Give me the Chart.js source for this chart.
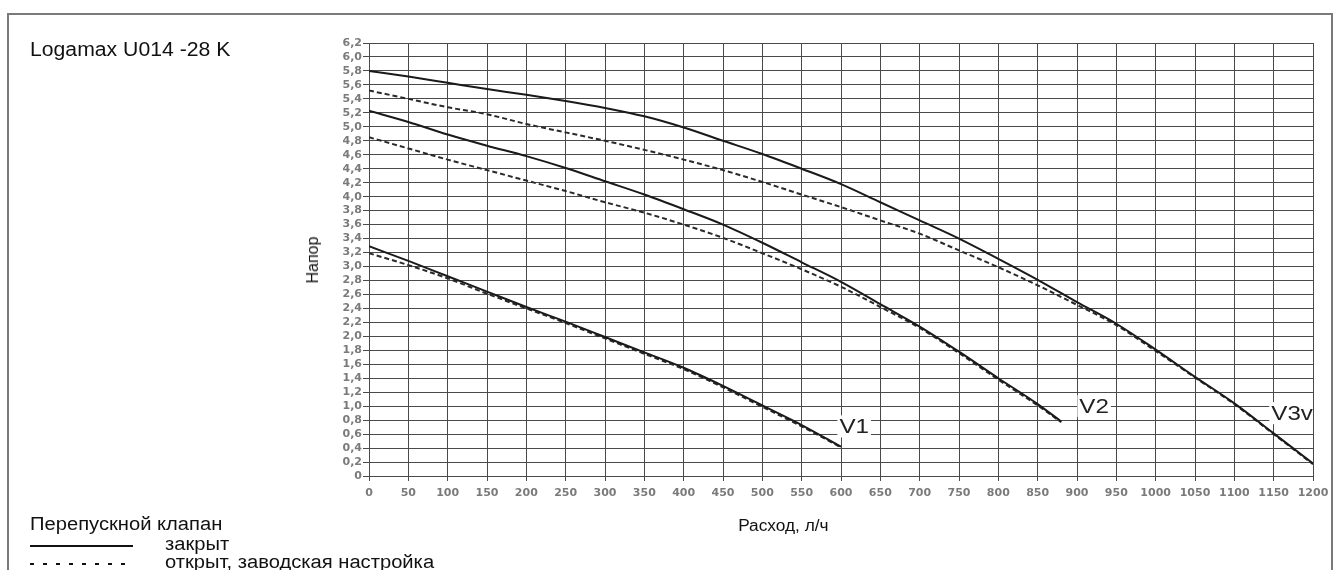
<!DOCTYPE html>
<html>
<head>
<meta charset="utf-8">
<script src="https://cdn.jsdelivr.net/npm/chart.js@4/dist/chart.umd.min.js"></script>
<style>
  html, body { margin: 0; padding: 0; background: #fff; overflow: hidden; }
  #wrap { position: relative; width: 1337px; height: 570px; font-family: Arial, "Liberation Sans", sans-serif; color: #111; }
  #frame { position: absolute; left: 7px; top: 13px; width: 1322px; height: 600px; border: 2px solid #7a7a7a; }
  #chart { position: absolute; left: 0; top: 0; }
  .txt { position: absolute; white-space: nowrap; line-height: 1; transform-origin: 0 0; }
  #title { left: 30px; top: 39px; font-size: 20px; transform: scaleX(1.06); }
  #ytitle { left: 313px; top: 260px; font-size: 16px; transform-origin: 50% 50%; transform: translate(-50%, -50%) rotate(-90deg); }
  #xtitle { left: 780px; top: 518px; font-size: 16px; transform: translateX(-50%) scaleX(1.08); transform-origin: 0 0; }
  #lg0 { left: 30px; top: 515px; font-size: 18px; transform: scaleX(1.12); }
  #lg1 { left: 165px; top: 535px; font-size: 18px; transform: scaleX(1.12); }
  #lg2 { left: 165px; top: 553px; font-size: 18px; transform: scaleX(1.12); }
  #ln1 { position: absolute; left: 30px; top: 545px; width: 103px; height: 2px; background: #111; }
  #ln2 { position: absolute; left: 30px; top: 563px; width: 103px; height: 2px;
         background: repeating-linear-gradient(to right, #111 0 4px, transparent 4px 13px); }
</style>
</head>
<body>
<div id="wrap">
  <div id="frame"></div>
  <canvas id="chart" width="1337" height="570"></canvas>
  <div class="txt" id="title">Logamax U014 -28 K</div>
  <div class="txt" id="ytitle">Напор</div>
  <div class="txt" id="xtitle">Расход, л/ч</div>
  <div class="txt" id="lg0">Перепускной клапан</div>
  <div id="ln1"></div>
  <div class="txt" id="lg1">закрыт</div>
  <div id="ln2"></div>
  <div class="txt" id="lg2">открыт, заводская настройка</div>
</div>
<script>
// flow (l/h) and head values
const v1Flow = [0, 50, 100, 150, 200, 250, 300, 350, 400, 450, 500, 550, 600];
const v1Closed = [3.29, 3.08, 2.86, 2.64, 2.42, 2.21, 1.99, 1.77, 1.55, 1.29, 1.01, 0.73, 0.42];
const v1Open = [3.19, 3.02, 2.83, 2.61, 2.40, 2.19, 1.97, 1.75, 1.53, 1.27, 0.99, 0.71, 0.41];

const v2Flow = [0, 50, 100, 150, 200, 250, 300, 350, 400, 450, 500, 550, 600, 650, 700, 750, 800, 850, 880];
const v2Closed = [5.23, 5.07, 4.89, 4.73, 4.58, 4.41, 4.22, 4.03, 3.82, 3.60, 3.34, 3.06, 2.78, 2.46, 2.14, 1.78, 1.40, 1.03, 0.78];
const v2Open = [4.85, 4.69, 4.53, 4.38, 4.23, 4.08, 3.92, 3.77, 3.60, 3.41, 3.19, 2.96, 2.71, 2.42, 2.12, 1.76, 1.38, 1.01, 0.77];

const v3Flow = [0, 50, 100, 150, 200, 250, 300, 350, 400, 450, 500, 550, 600, 650, 700, 750, 800, 850, 900, 950, 1000, 1050, 1100, 1150, 1200];
const v3Closed = [5.80, 5.72, 5.63, 5.54, 5.46, 5.37, 5.27, 5.15, 4.99, 4.80, 4.61, 4.40, 4.18, 3.92, 3.66, 3.40, 3.11, 2.81, 2.49, 2.18, 1.81, 1.42, 1.04, 0.61, 0.18];
const v3Open = [5.52, 5.40, 5.28, 5.18, 5.04, 4.92, 4.80, 4.67, 4.53, 4.38, 4.21, 4.03, 3.85, 3.66, 3.47, 3.23, 2.99, 2.73, 2.45, 2.16, 1.79, 1.41, 1.03, 0.60, 0.17];

const curveNames = ['V1', 'V2', 'V3v'];
const curveNameFlow = [598, 903, 1147];
const curveNameHead = [0.71, 1.0, 0.9];

function pts(xs, ys) {
  return xs.map((x, i) => ({ x: x, y: ys[i] }));
}

function lineSet(label, xs, ys, dashed) {
  return {
    label: label,
    data: pts(xs, ys),
    borderColor: dashed ? '#2a2a2a' : '#1a1a1a',
    borderWidth: 2,
    borderDash: dashed ? [5, 3] : [],
    pointRadius: 0,
    tension: 0.3,
    cubicInterpolationMode: 'monotone',
    fill: false
  };
}

// white-boxed curve names (V1, V2, V3v) drawn over the grid
const curveLabelPlugin = {
  id: 'curveLabels',
  beforeDatasetsDraw(chart) {
    const { ctx, chartArea, scales } = chart;
    ctx.save();
    ctx.beginPath();
    ctx.rect(chartArea.left, chartArea.top, chartArea.right - chartArea.left, chartArea.bottom - chartArea.top);
    ctx.clip();
    ctx.font = '21px Arial, "Liberation Sans", sans-serif';
    ctx.textBaseline = 'middle';
    ctx.textAlign = 'left';
    curveNames.forEach((name, i) => {
      const x = scales.x.getPixelForValue(curveNameFlow[i]);
      const y = scales.y.getPixelForValue(curveNameHead[i]);
      const w = ctx.measureText(name).width * 1.15;
      ctx.fillStyle = '#fff';
      ctx.fillRect(x - 2, y - 11, w + 4, 22);
      ctx.save();
      ctx.translate(x, y + 1);
      ctx.scale(1.15, 1);
      ctx.fillStyle = '#222';
      ctx.fillText(name, 0, 0);
      ctx.restore();
    });
    ctx.restore();
  }
};

const tickFont = { family: '"DejaVu Sans", sans-serif', size: 11, weight: 'bold' };

new Chart(document.getElementById('chart'), {
  type: 'line',
  data: {
    datasets: [
      lineSet('V3 закрыт', v3Flow, v3Closed, false),
      lineSet('V3 открыт', v3Flow, v3Open, true),
      lineSet('V2 закрыт', v2Flow, v2Closed, false),
      lineSet('V2 открыт', v2Flow, v2Open, true),
      lineSet('V1 закрыт', v1Flow, v1Closed, false),
      lineSet('V1 открыт', v1Flow, v1Open, true)
    ]
  },
  options: {
    responsive: false,
    animation: false,
    layout: { padding: { left: 0, top: 43, right: 24, bottom: 64 } },
    plugins: {
      legend: { display: false },
      tooltip: { enabled: false }
    },
    scales: {
      x: {
        type: 'linear',
        min: 0, max: 1200,
        afterFit: s => { s.height = 30; },
        ticks: {
          stepSize: 50, autoSkip: false, maxRotation: 0, color: '#7a7a7a', font: tickFont, padding: 6,
          callback: v => String(v)
        },
        grid: { color: '#4a4a4a', lineWidth: 1, tickLength: 5 },
        border: { color: '#4a4a4a' }
      },
      y: {
        min: 0, max: 6.2,
        afterFit: s => { s.width = 369; },
        ticks: {
          stepSize: 0.2, autoSkip: false, color: '#7a7a7a', font: tickFont, padding: 1,
          callback: v => (Math.abs(v) < 1e-9 ? '0' : v.toFixed(1).replace('.', ','))
        },
        grid: { color: '#4a4a4a', lineWidth: 1, tickLength: 6 },
        border: { color: '#4a4a4a' }
      }
    }
  },
  plugins: [curveLabelPlugin]
});
</script>
</body>
</html>
